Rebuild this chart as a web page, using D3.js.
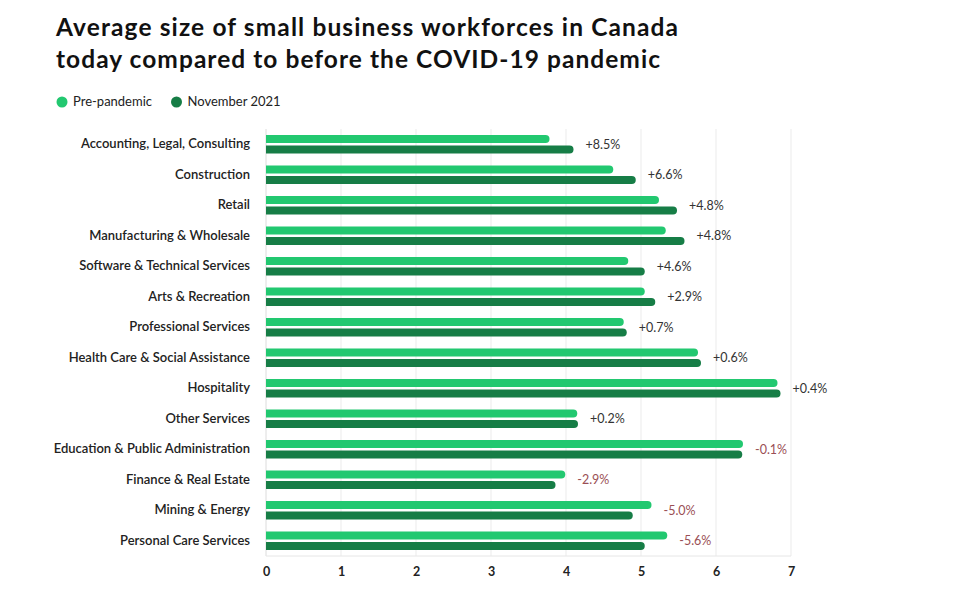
<!DOCTYPE html>
<html><head><meta charset="utf-8">
<script src="https://cdn.jsdelivr.net/npm/d3@7"></script>
<style>
body{margin:0;background:#fff;font-family:Lato,"Noto Sans",sans-serif;}
</style></head>
<body><svg id="c" width="963" height="595"></svg>
<script>
const categories = ["Accounting, Legal, Consulting","Construction","Retail","Manufacturing & Wholesale","Software & Technical Services","Arts & Recreation","Professional Services","Health Care & Social Assistance","Hospitality","Other Services","Education & Public Administration","Finance & Real Estate","Mining & Energy","Personal Care Services"];
const prePandemic = [3.78,4.63,5.24,5.33,4.83,5.05,4.77,5.76,6.82,4.15,6.36,3.99,5.14,5.35];
const november2021 = [4.10,4.93,5.48,5.58,5.05,5.19,4.81,5.80,6.86,4.16,6.35,3.86,4.89,5.05];
const changeLabels = ["+8.5%","+6.6%","+4.8%","+4.8%","+4.6%","+2.9%","+0.7%","+0.6%","+0.4%","+0.2%","-0.1%","-2.9%","-5.0%","-5.6%"];
const xTicks = [0,1,2,3,4,5,6,7];
const seriesNames = ["Pre-pandemic","November 2021"];
const colors = ["#22c870","#167d46"];

const svg = d3.select("#c");
const L = 266, R = 791, T = 129, B = 556;
const x = d3.scaleLinear().domain([0,7]).range([L,R]);
const y = d3.scaleBand().domain(categories).range([T,B]);

// title
svg.append("text").attr("x",56).attr("y",35.5).attr("font-size",24.5).attr("font-weight",700).attr("fill","#111")
  .attr("textLength",622).attr("lengthAdjust","spacing")
  .text("Average size of small business workforces in Canada");
svg.append("text").attr("x",56).attr("y",67.5).attr("font-size",24.5).attr("font-weight",700).attr("fill","#111")
  .attr("textLength",604).attr("lengthAdjust","spacing")
  .text("today compared to before the COVID-19 pandemic");

// legend
const lg = svg.append("g");
[[62,0],[176.5,1]].forEach(([lx,i])=>{
  lg.append("circle").attr("cx",lx).attr("cy",102).attr("r",5.5).attr("fill",colors[i]);
  lg.append("text").attr("x",lx+11).attr("y",106).attr("font-size",13).attr("fill","#222").text(seriesNames[i]);
});

// grid
svg.append("g").selectAll("line").data(xTicks).join("line")
  .attr("x1",d=>x(d)).attr("x2",d=>x(d)).attr("y1",T).attr("y2",B)
  .attr("stroke",d=>d===0?"#dcdcdc":"#ebebeb").attr("stroke-width",1);
svg.append("line").attr("x1",L).attr("x2",R).attr("y1",B).attr("y2",B).attr("stroke","#e6e6e6");

// x axis
const xa = svg.append("g").attr("transform",`translate(0,${B})`)
  .call(d3.axisBottom(x).tickValues(xTicks).tickFormat(d3.format("d")).tickSize(0).tickPadding(11));
xa.select(".domain").remove();
xa.selectAll("text").attr("font-size",12.5).attr("font-weight",700).attr("fill","#222").attr("font-family","Lato,sans-serif");

// y labels
const ya = svg.append("g").attr("transform",`translate(${L-16},0)`)
  .call(d3.axisLeft(y).tickSize(0).tickPadding(0));
ya.select(".domain").remove();
ya.selectAll("text").attr("font-size",13).attr("font-weight",600).attr("fill","#222").attr("font-family","Lato,sans-serif");

// bars
const bh = 8, gap = 2.5;
function barPath(x0,x1,yt,h){
  const r = Math.min(h/2, x1-x0);
  return `M${x0},${yt}H${x1-r}A${r},${r} 0 0 1 ${x1},${yt+r}V${yt+h-r}A${r},${r} 0 0 1 ${x1-r},${yt+h}H${x0}Z`;
}
const rows = categories.map((c,i)=>({c,pre:prePandemic[i],nov:november2021[i],lab:changeLabels[i]}));
const g = svg.append("g");
g.selectAll("path.pre").data(rows).join("path").attr("class","pre")
  .attr("d",d=>{const cy=y(d.c)+y.bandwidth()/2; return barPath(x(0),x(d.pre),cy-gap/2-bh,bh);})
  .attr("fill",colors[0]);
g.selectAll("path.nov").data(rows).join("path").attr("class","nov")
  .attr("d",d=>{const cy=y(d.c)+y.bandwidth()/2; return barPath(x(0),x(d.nov),cy+gap/2,bh);})
  .attr("fill",colors[1]);

// change labels
g.selectAll("text.lab").data(rows).join("text").attr("class","lab")
  .attr("x",d=>x(Math.max(d.pre,d.nov))+12)
  .attr("y",d=>y(d.c)+y.bandwidth()/2+4.5)
  .attr("font-size",12.5).attr("fill",d=>d.lab.startsWith("-")?"#9a4f55":"#333")
  .text(d=>d.lab);
</script></body></html>
